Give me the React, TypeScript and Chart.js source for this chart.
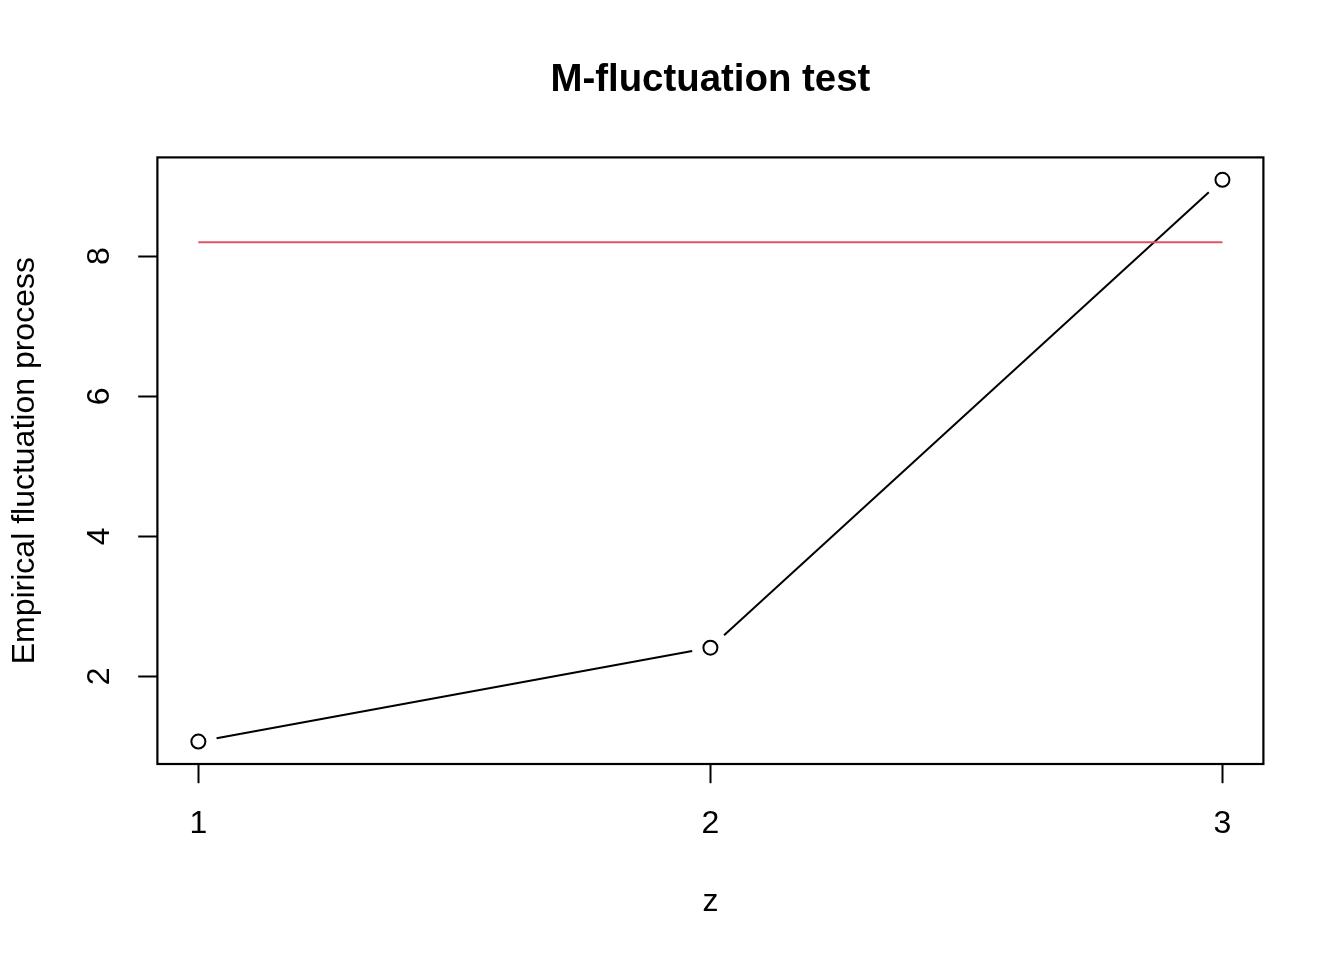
import React, { useEffect, useRef } from "react";
import { Chart, registerables } from "chart.js";

Chart.register(...registerables);

const xValues = [1, 2, 3];
const processValues = [1.07, 2.41, 9.09];
const boundaryX = [1, 3];
const boundaryValue = [8.2, 8.2];
const xTicks = [1, 2, 3];
const yTicks = [2, 4, 6, 8];
const titleText = "M-fluctuation test";
const xTitle = "z";
const yTitle = "Empirical fluctuation process";

const FONT = "'Liberation Sans', Arial, Helvetica, sans-serif";

function padRange(vals: number[]) {
  const lo = Math.min(...vals);
  const hi = Math.max(...vals);
  const p = (hi - lo) * 0.04;
  return [lo - p, hi + p];
}

const boxPlugin = {
  id: "rbox",
  afterDatasetsDraw(chart: any) {
    const { ctx, chartArea } = chart;
    ctx.save();
    ctx.strokeStyle = "#000";
    ctx.lineWidth = 2.2;
    ctx.strokeRect(
      chartArea.left,
      chartArea.top,
      chartArea.right - chartArea.left,
      chartArea.bottom - chartArea.top
    );
    ctx.restore();
  },
};

// R type="b": line segments between points, leaving a gap around each point
const gapLinePlugin = {
  id: "gapLine",
  beforeDatasetsDraw(chart: any) {
    const meta = chart.getDatasetMeta(0);
    const pts = meta.data;
    const gap = 18.5;
    const { ctx } = chart;
    ctx.save();
    ctx.strokeStyle = "#000";
    ctx.lineWidth = 2;
    for (let i = 0; i < pts.length - 1; i++) {
      const a = pts[i];
      const b = pts[i + 1];
      const dx = b.x - a.x;
      const dy = b.y - a.y;
      const len = Math.sqrt(dx * dx + dy * dy);
      if (len <= 2 * gap) continue;
      const ux = dx / len;
      const uy = dy / len;
      ctx.beginPath();
      ctx.moveTo(a.x + ux * gap, a.y + uy * gap);
      ctx.lineTo(b.x - ux * gap, b.y - uy * gap);
      ctx.stroke();
    }
    ctx.restore();
  },
};

export default function App() {
  const ref = useRef<HTMLCanvasElement | null>(null);

  useEffect(() => {
    document.body.style.margin = "0";
    const canvas = ref.current;
    if (!canvas) return;
    const [xmin, xmax] = padRange(xValues);
    const [ymin, ymax] = padRange([...processValues, ...boundaryValue]);

    const chart = new Chart(canvas, {
      type: "scatter",
      data: {
        datasets: [
          {
            label: "process",
            data: xValues.map((x, i) => ({ x, y: processValues[i] })),
            showLine: false,
            pointRadius: 7,
            pointBorderWidth: 2,
            pointBorderColor: "#000",
            pointBackgroundColor: "rgba(0,0,0,0)",
            pointHoverRadius: 7,
          },
          {
            label: "boundary",
            data: boundaryX.map((x, i) => ({ x, y: boundaryValue[i] })),
            showLine: true,
            borderColor: "#DF536B",
            borderWidth: 2,
            pointRadius: 0,
            pointHoverRadius: 0,
          },
        ],
      },
      options: {
        responsive: false,
        animation: false,
        events: [],
        layout: { padding: { left: 0, right: 80.6, top: 0, bottom: 0 } },
        plugins: {
          legend: { display: false },
          tooltip: { enabled: false },
          title: {
            display: true,
            text: titleText,
            fullSize: false,
            color: "#000",
            font: { family: FONT, size: 38.4, weight: "bold", lineHeight: 1.2 },
            padding: { top: 57.2, bottom: 157.4 - 46.08 - 57.2 },
          },
        },
        scales: {
          x: {
            type: "linear",
            position: "bottom",
            min: xmin,
            max: xmax,
            afterFit(scale: any) {
              scale.height = 196;
            },
            afterBuildTicks(scale: any) {
              scale.ticks = xTicks.map((v) => ({ value: v }));
            },
            grid: {
              drawOnChartArea: false,
              drawTicks: true,
              tickLength: 19.2,
              color: "#000",
              tickWidth: 2,
            },
            border: { display: false },
            ticks: {
              color: "#000",
              font: { family: FONT, size: 32, lineHeight: 1.2 },
              padding: 21.6,
              maxRotation: 0,
              minRotation: 0,
              autoSkip: false,
              callback: (v: any) => String(v),
            },
            title: {
              display: true,
              text: xTitle,
              color: "#000",
              font: { family: FONT, size: 32, lineHeight: 1.2 },
              padding: { top: 0, bottom: 38.8 },
            },
          },
          y: {
            type: "linear",
            position: "left",
            min: ymin,
            max: ymax,
            afterFit(scale: any) {
              scale.width = 157.4;
            },
            afterBuildTicks(scale: any) {
              scale.ticks = yTicks.map((v) => ({ value: v }));
            },
            grid: {
              drawOnChartArea: false,
              drawTicks: true,
              tickLength: 19.2,
              color: "#000",
              tickWidth: 2,
            },
            border: { display: false },
            ticks: {
              color: "#000",
              font: { family: FONT, size: 32, lineHeight: 1.2 },
              padding: 29.6,
              minRotation: 90,
              maxRotation: 90,
              crossAlign: "center",
              autoSkip: false,
              callback: (v: any) => String(v),
            },
            title: {
              display: true,
              text: yTitle,
              color: "#000",
              font: { family: FONT, size: 32, lineHeight: 1.2 },
              padding: { top: 6, bottom: 0 },
            },
          },
        },
      },
      plugins: [gapLinePlugin, boxPlugin],
    } as any);

    return () => chart.destroy();
  }, []);

  return (
    <div style={{ width: 1344, height: 960, background: "#fff" }}>
      <canvas ref={ref} width={1344} height={960} style={{ display: "block" }} />
    </div>
  );
}
